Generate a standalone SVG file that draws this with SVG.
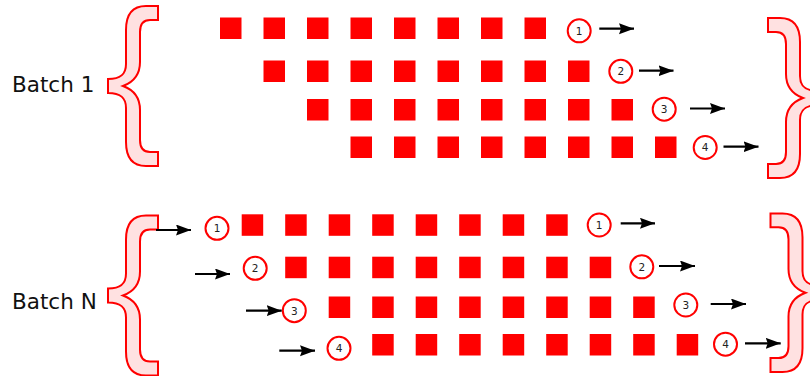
<svg xmlns="http://www.w3.org/2000/svg" xmlns:xlink="http://www.w3.org/1999/xlink" width="810" height="376" viewBox="0 0 810 376">
<style>
.lbl{font-family:"DejaVu Sans","Verdana",sans-serif;font-size:21.5px;fill:#111}
.num{font-family:"DejaVu Sans","Verdana",sans-serif;font-size:10.5px;fill:#222;text-anchor:middle}
.sq{fill:#ff0000}
.circ{fill:#fff;stroke:#ff0000;stroke-width:2}
.brace{fill:#ffe1e1;stroke:#ff0000;stroke-width:2;stroke-linejoin:miter}
.arr{stroke:#000;stroke-width:2.2;fill:none}
</style>
<defs>
<marker id="ah" markerUnits="userSpaceOnUse" markerWidth="16" markerHeight="12" refX="15" refY="5.5" orient="auto">
<path d="M0,0 L15,5.5 L0,11 L2,5.5 z" fill="#000"/>
</marker>
<path id="br" d="M50,0 L38,0 C24,0 18,8 18,24 L18,58 C18,68 13,73 0,73 L0,87 C13,87 18,92 18,102 L18,136 C18,152 24,160 38,160 L50,160 L50,146 L42,146 C35,146 32,142 32,134 L32,104 C32,92 26,84 15,80 C26,76 32,68 32,56 L32,26 C32,18 35,14 42,14 L50,14 Z"/>
<g id="row8">
<rect class="sq" x="0" y="0" width="21.5" height="21.5"/>
<rect class="sq" x="43.5" y="0" width="21.5" height="21.5"/>
<rect class="sq" x="87" y="0" width="21.5" height="21.5"/>
<rect class="sq" x="130.5" y="0" width="21.5" height="21.5"/>
<rect class="sq" x="174" y="0" width="21.5" height="21.5"/>
<rect class="sq" x="217.5" y="0" width="21.5" height="21.5"/>
<rect class="sq" x="261" y="0" width="21.5" height="21.5"/>
<rect class="sq" x="304.5" y="0" width="21.5" height="21.5"/>
</g>
</defs>

<g id="batch1-label"><text class="lbl" x="12" y="91.7">Batch 1</text></g>
<g id="batchN-label"><text class="lbl" x="12" y="309.3">Batch N</text></g>

<g id="brace-b1-left"><use href="#br" class="brace" transform="translate(108,6)"/></g>
<g id="brace-b1-right"><use href="#br" class="brace" transform="translate(818,18) scale(-1,1)"/></g>
<g id="brace-bN-left"><use href="#br" class="brace" transform="translate(108,215.5)"/></g>
<g id="brace-bN-right"><use href="#br" class="brace" transform="translate(820.5,213.5) scale(-1,0.99)"/></g>

<g id="b1-row1">
<use href="#row8" x="220" y="17.5"/>
<circle class="circ" cx="579.2" cy="30.8" r="11.5"/><text class="num" x="579.2" y="34.6">1</text>
</g>
<g id="b1-row2">
<use href="#row8" x="263.5" y="60.5"/>
<circle class="circ" cx="620.8" cy="71.3" r="11.5"/><text class="num" x="620.8" y="75.1">2</text>
</g>
<g id="b1-row3">
<use href="#row8" x="307" y="99"/>
<circle class="circ" cx="664.2" cy="109.2" r="11.5"/><text class="num" x="664.2" y="113">3</text>
</g>
<g id="b1-row4">
<use href="#row8" x="350.5" y="136.5"/>
<circle class="circ" cx="705.2" cy="147.5" r="11.5"/><text class="num" x="705.2" y="151.3">4</text>
</g>

<g id="bN-row1">
<circle class="circ" cx="217" cy="228.3" r="11.5"/><text class="num" x="217" y="232.1">1</text>
<use href="#row8" x="241.7" y="214.3"/>
<circle class="circ" cx="599.2" cy="225" r="11.5"/><text class="num" x="599.2" y="228.8">1</text>
</g>
<g id="bN-row2">
<circle class="circ" cx="255.2" cy="268.3" r="11.5"/><text class="num" x="255.2" y="272.1">2</text>
<use href="#row8" x="285.2" y="256.7"/>
<circle class="circ" cx="641.8" cy="266.8" r="11.5"/><text class="num" x="641.8" y="270.6">2</text>
</g>
<g id="bN-row3">
<circle class="circ" cx="294.3" cy="310.7" r="11.5"/><text class="num" x="294.3" y="314.5">3</text>
<use href="#row8" x="328.7" y="296.5"/>
<circle class="circ" cx="685.8" cy="305" r="11.5"/><text class="num" x="685.8" y="308.8">3</text>
</g>
<g id="bN-row4">
<circle class="circ" cx="339" cy="348.3" r="11.5"/><text class="num" x="339" y="352.1">4</text>
<use href="#row8" x="372.2" y="334"/>
<circle class="circ" cx="725.5" cy="344.2" r="11.5"/><text class="num" x="725.5" y="348">4</text>
</g>

<g id="connectors" class="arr" marker-end="url(#ah)">
<line x1="599.3" y1="28.7" x2="634" y2="28.7"/>
<line x1="639" y1="70.7" x2="673.5" y2="70.7"/>
<line x1="690" y1="108.5" x2="725" y2="108.5"/>
<line x1="723.5" y1="146.7" x2="758.5" y2="146.7"/>
<line x1="156" y1="230" x2="191" y2="230"/>
<line x1="195" y1="274" x2="230" y2="274"/>
<line x1="246" y1="310.7" x2="281.7" y2="310.7"/>
<line x1="279.3" y1="350.7" x2="315" y2="350.7"/>
<line x1="620.7" y1="223.3" x2="655" y2="223.3"/>
<line x1="659" y1="266" x2="695" y2="266"/>
<line x1="710.7" y1="304" x2="746" y2="304"/>
<line x1="745" y1="343.3" x2="780.7" y2="343.3"/>
</g>
</svg>
